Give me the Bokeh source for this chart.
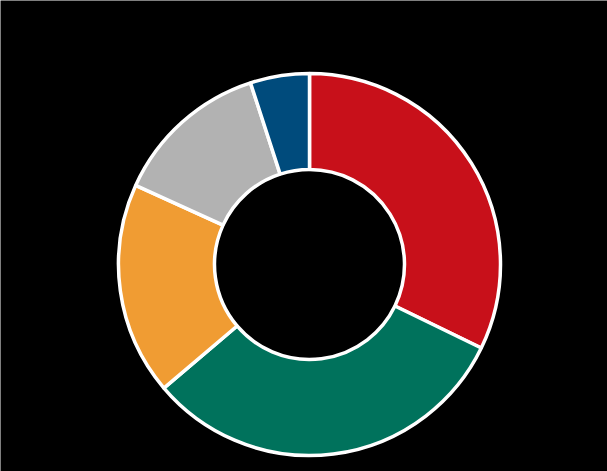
import math
from bokeh.plotting import figure
from bokeh.models import ColumnDataSource, Range1d
from bokeh.embed import file_html
from bokeh.resources import INLINE

categories = ["A", "B", "C", "D", "E"]
values = [32.2, 31.6, 18.0, 13.2, 5.0]
colors = ["#C8101A", "#00725C", "#F09C33", "#B2B2B2", "#004B7C"]

W, H = 607, 471
total = sum(values)
starts, ends = [], []
cum = 0.0
for v in values:
    starts.append(math.pi / 2 - 2 * math.pi * cum / total)
    cum += v
    ends.append(math.pi / 2 - 2 * math.pi * cum / total)

src = ColumnDataSource(dict(cat=categories, val=values, color=colors,
                            start=starts, end=ends))

p = figure(width=W, height=H, output_backend="svg", toolbar_location=None,
           x_range=Range1d(0, W), y_range=Range1d(0, H), min_border=0)
p.axis.visible = False
p.grid.visible = False
p.outline_line_color = None
p.background_fill_color = "black"
p.border_fill_color = "black"

p.annular_wedge(x=309, y=H - 264, inner_radius=95, outer_radius=191,
                start_angle="start", end_angle="end", direction="clock",
                fill_color="color", line_color="white", line_width=3.5,
                source=src)

html = file_html(p, INLINE)
html = html.replace("<body>", '<body style="background:#000000;margin:0">', 1)
open("out.html", "w").write(html)
